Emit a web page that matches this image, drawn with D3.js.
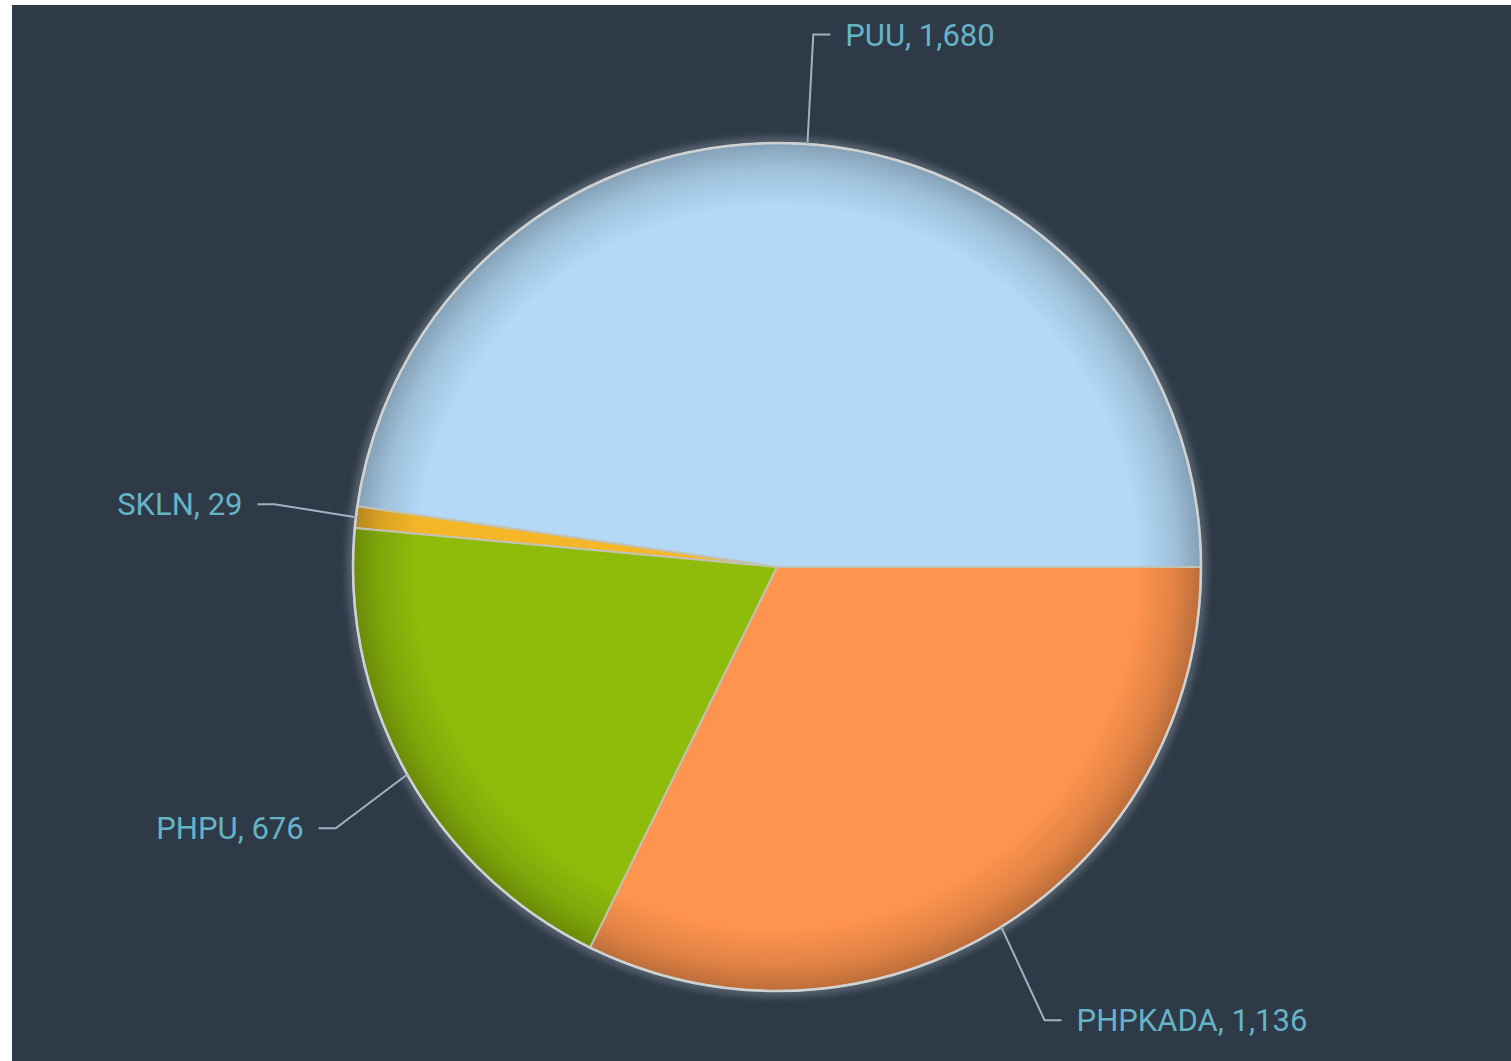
<!DOCTYPE html>
<html>
<head>
<meta charset="utf-8">
<script src="https://cdn.jsdelivr.net/npm/d3@7"></script>
<style>
  body { margin: 0; background: #fff; }
  svg { display: block; }
</style>
</head>
<body>
<script>
  // Data
  const categories = ['PUU', 'SKLN', 'PHPU', 'PHPKADA'];
  const values = [1680, 29, 676, 1136];
  const colors = ['#b3d9f7', '#f5b728', '#8fbc0b', '#ff944e'];

  const width = 1511;
  const height = 1061;

  const cx = 777;
  const cy = 567;
  const radius = 424;

  const fmt = d3.format(',');

  const svg = d3.select('body')
    .append('svg')
    .attr('width', width)
    .attr('height', height);

  // Background
  svg.append('rect')
    .attr('x', 12)
    .attr('y', 5)
    .attr('width', width - 12)
    .attr('height', height - 5)
    .attr('fill', '#2e3a47');

  const defs = svg.append('defs');

  // rim shading for each slice
  colors.forEach((c, i) => {
    const g = defs.append('radialGradient')
      .attr('id', `shade${i}`)
      .attr('gradientUnits', 'userSpaceOnUse')
      .attr('cx', 0).attr('cy', 0).attr('r', radius);
    g.append('stop').attr('offset', '0%').attr('stop-color', c);
    g.append('stop').attr('offset', '85%').attr('stop-color', c);
    g.append('stop').attr('offset', '94%').attr('stop-color', d3.color(c).darker(0.35));
    g.append('stop').attr('offset', '100%').attr('stop-color', d3.color(c).darker(0.85));
  });

  const glow = defs.append('filter')
    .attr('id', 'glow')
    .attr('x', '-20%').attr('y', '-20%')
    .attr('width', '140%').attr('height', '140%');
  glow.append('feGaussianBlur').attr('stdDeviation', 4);

  const pie = d3.pie()
    .sort(null)
    .startAngle(Math.PI / 2)
    .endAngle(-1.5 * Math.PI)
    .value(d => d.value);

  const arcs = pie(categories.map((name, i) => ({ name, value: values[i], i })));

  const arc = d3.arc().innerRadius(0).outerRadius(radius);

  const g = svg.append('g')
    .attr('transform', `translate(${cx}, ${cy})`);

  // faint halo around the pie
  g.append('circle')
    .attr('r', radius + 1)
    .attr('fill', 'none')
    .attr('stroke', '#d8e4ee')
    .attr('stroke-opacity', 0.4)
    .attr('stroke-width', 6)
    .attr('filter', 'url(#glow)');

  g.selectAll('path.slice')
    .data(arcs)
    .enter()
    .append('path')
    .attr('class', 'slice')
    .attr('d', arc)
    .attr('fill', d => `url(#shade${d.data.i})`)
    .attr('stroke', '#c2c2b4')
    .attr('stroke-width', 2)
    .attr('stroke-linejoin', 'round');

  g.append('circle')
    .attr('r', radius)
    .attr('fill', 'none')
    .attr('stroke', '#cfd2d2')
    .attr('stroke-width', 2.5);

  // Labels with connectors
  const polar = (a, rx, ry) => [Math.sin(a) * rx, -Math.cos(a) * ry];

  const labels = g.selectAll('g.label')
    .data(arcs)
    .enter()
    .append('g')
    .attr('class', 'label');

  labels.each(function (d) {
    const mid = (d.startAngle + d.endAngle) / 2;
    const right = Math.sin(mid) > 0;
    const dir = right ? 1 : -1;
    const edge = polar(mid, radius, radius);
    const elbow = polar(mid, radius + 82, radius + 110);
    const end = [elbow[0] + dir * 17, elbow[1]];
    const sel = d3.select(this);

    sel.append('path')
      .attr('d', d3.line()([edge, elbow, end]))
      .attr('fill', 'none')
      .attr('stroke', '#9fb3c1')
      .attr('stroke-width', 2);

    sel.append('text')
      .attr('x', end[0] + dir * 15)
      .attr('y', end[1])
      .attr('dy', '0.36em')
      .attr('text-anchor', right ? 'start' : 'end')
      .style('font-family', 'Roboto, sans-serif')
      .style('font-size', '31px')
      .attr('fill', '#66b3c6')
      .text(`${d.data.name}, ${fmt(d.data.value)}`);
  });
</script>
</body>
</html>
